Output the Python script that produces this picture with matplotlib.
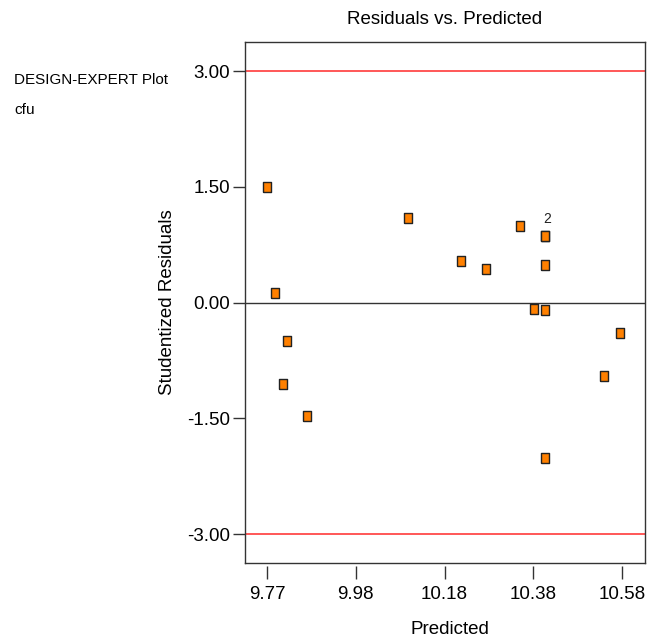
"""Residuals vs. Predicted plot (Design-Expert style)."""

import matplotlib
matplotlib.use("Agg")
import matplotlib.pyplot as plt
import numpy as np

plt.rcParams["font.family"] = ["Liberation Sans", "DejaVu Sans"]

# predicted value and studentized residual for each run
predicted = [9.772, 10.095, 10.349, 10.4075, 10.4075, 10.216, 10.272, 10.4075,
             9.7915, 10.382, 10.4075, 10.5786, 9.818, 10.5414, 9.8097, 9.8638, 10.4075]
residuals = [1.50, 1.09, 0.99, 0.86, 0.86, 0.54, 0.43, 0.48,
             0.13, -0.09, -0.10, -0.39, -0.50, -0.95, -1.06, -1.47, -2.02]

x_ticks = [9.7725, 9.975, 10.1775, 10.38, 10.5825]
x_labels = ["9.77", "9.98", "10.18", "10.38", "10.58"]
y_ticks = [3.0, 1.5, 0.0, -1.5, -3.0]
y_labels = ["3.00", "1.50", "0.00", "-1.50", "-3.00"]
limit = 3.0

fig = plt.figure(figsize=(6.52, 6.39), dpi=100)
ax = fig.add_axes([0.3758, 0.1189, 0.6135, 0.8153])

rect = [(-0.72, -1), (0.72, -1), (0.72, 1), (-0.72, 1), (-0.72, -1)]
ax.plot(predicted, residuals, linestyle="none", marker=rect, markersize=7.2,
        markerfacecolor="#ff8000", markeredgecolor="#222222", markeredgewidth=1.0,
        zorder=3)

# count label for the repeated point
pts = list(zip(predicted, residuals))
for p in set(pts):
    n = pts.count(p)
    if n > 1:
        ax.annotate(str(n), p, xytext=(1, 7), textcoords="offset points",
                    ha="center", va="bottom", fontsize=10, color="#222222")

ax.axhline(limit, color="#ff3b3b", linewidth=1.2, zorder=2)
ax.axhline(-limit, color="#ff3b3b", linewidth=1.2, zorder=2)
ax.axhline(0, color="#333333", linewidth=1.0, zorder=2)

ax.set_xlim(9.7223, 10.635)
ax.set_ylim(-3.376, 3.376)

ax.set_xticks(x_ticks)
ax.set_xticklabels(x_labels)
ax.set_yticks(y_ticks)
ax.set_yticklabels(y_labels)
ax.tick_params(axis="both", labelsize=13.5, color="#333333", width=1.0)
ax.tick_params(axis="x", length=9.5, pad=5)
ax.tick_params(axis="y", length=8.6, pad=2)

for side in ["top", "left", "right"]:
    ax.spines[side].set_color("#333333")
    ax.spines[side].set_linewidth(1.0)
# x ticks sit slightly below the frame
ax.spines["bottom"].set_position(("outward", 2))
ax.spines["bottom"].set_color("none")
ax.plot([0, 1], [0, 0], transform=ax.transAxes, color="#333333",
        linewidth=1.0, clip_on=False, zorder=4)

fig.text(445 / 652, 1 - 20 / 639, "Residuals vs. Predicted", ha="center",
         va="center", fontsize=13.5)
fig.text(450 / 652, 1 - 630 / 639, "Predicted", ha="center", va="center",
         fontsize=13.5)
fig.text(168 / 652, 1 - 302 / 639, "Studentized Residuals", ha="center",
         va="center", rotation=90, fontsize=13.5)
fig.text(14 / 652, 1 - 80 / 639, "DESIGN-EXPERT Plot", ha="left",
         va="center", fontsize=11)
fig.text(14 / 652, 1 - 110 / 639, "cfu", ha="left", va="center", fontsize=11)

fig.savefig("out.png", dpi=100)
plt.close(fig)
